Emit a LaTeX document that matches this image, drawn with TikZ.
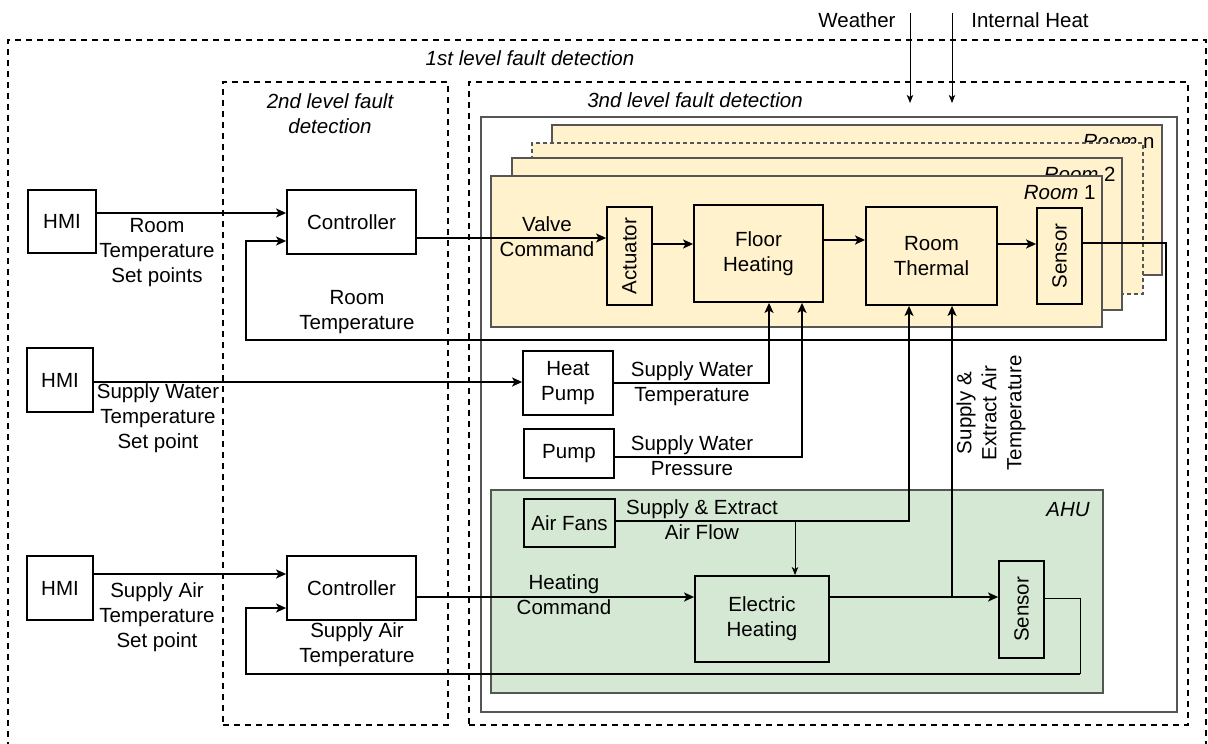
\documentclass[tikz,border=0pt]{standalone}
\usepackage{fontspec}
\setmainfont{Liberation Sans}
\usetikzlibrary{arrows.meta}
\definecolor{roomfill}{HTML}{FFF2CC}
\definecolor{ahufill}{HTML}{D5E8D4}
\definecolor{edgegray}{HTML}{555555}
\newcommand\mkbox[7]{\node[#1, minimum width={(#5-#3)*0.5pt}, minimum height={(#6-#4)*0.5pt}] (#2) at ({(#3+#5)/2},{(#4+#6)/2}) {#7};}
\begin{document}
\begin{tikzpicture}[x=0.5pt,y=-0.5pt,
  font=\fontsize{10.25}{12.5}\selectfont,
  blk/.style={draw=black, line width=0.9pt, inner sep=0pt, align=center},
  roombox/.style={draw=edgegray, fill=roomfill, line width=0.6pt, inner sep=0pt},
  roomdash/.style={roombox, dash pattern=on 2pt off 1.5pt},
  ahubox/.style={draw=edgegray, fill=ahufill, line width=0.6pt, inner sep=0pt},
  graybox/.style={draw=edgegray, line width=0.7pt, inner sep=0pt},
  dbox/.style={draw=black, line width=0.9pt, dash pattern=on 3pt off 2.5pt, inner sep=0pt},
  conn/.style={line width=0.8pt, -{Stealth[length=5pt,width=4.5pt,inset=1.2pt]}},
  plain/.style={line width=0.8pt},
  thinline/.style={line width=0.5pt},
  thinarrow/.style={line width=0.5pt, -{Stealth[length=4pt,width=3.2pt,inset=1pt]}},
  lbl/.style={inner sep=0pt, align=center},
  ilbl/.style={inner sep=0pt, align=center, font=\fontsize{10.25}{12.5}\selectfont\itshape}
]
\useasboundingbox (0,0) rectangle (1208,743);

% level boxes
\mkbox{dbox}{lvlone}{8}{40}{1206}{770}{}
\mkbox{dbox}{lvltwo}{223}{82}{448}{725}{}
\mkbox{dbox}{lvlthree}{469}{82}{1188}{725}{}
\mkbox{graybox}{inner}{481}{117}{1177}{712}{}

\node[ilbl] (l1) at (530,58) {1st level fault detection};
\node[ilbl] (l2) at (330,114) {2nd level fault\\detection};
\node[ilbl] (l3) at (695,100) {3nd level fault detection};

% external inputs
\node[lbl] (wea) at (857,20) {Weather};
\node[lbl] (ih) at (1030,20) {Internal Heat};
\coordinate (wa) at (910,13);
\coordinate (wb) at (910,103);
\coordinate (ia) at (952,13);
\coordinate (ib) at (952,103);
\draw[thinarrow] (wa) -- (wb);
\draw[thinarrow] (ia) -- (ib);

% room stack
\mkbox{roombox}{roomn}{552}{125}{1162}{275}{}
\node[lbl, anchor=base east] (roomnl) at (1155,149) {\textit{Room} n};
\mkbox{roomdash}{roomd}{532}{143}{1143}{294}{}
\mkbox{roombox}{roomtwo}{512}{158}{1122}{310}{}
\node[lbl, anchor=base east] (roomtwol) at (1116,182) {\textit{Room} 2};
\mkbox{roombox}{roomone}{491}{176}{1102}{327}{}
\node[lbl, anchor=base east] (roomonel) at (1096,199) {\textit{Room} 1};

% AHU
\mkbox{ahubox}{ahu}{491}{490}{1103}{693}{}
\node[ilbl, anchor=base east] (ahul) at (1090,516) {AHU};

% blocks
\mkbox{blk}{act}{607}{207}{652}{305}{\rotatebox{90}{Actuator}}
\mkbox{blk}{fh}{694}{205}{823}{302}{Floor\\Heating}
\mkbox{blk}{rt}{866}{207}{997}{305}{Room\\Thermal}
\mkbox{blk}{senone}{1037}{208}{1082}{304}{\rotatebox{90}{Sensor}}
\mkbox{blk}{hmione}{28}{190}{96}{253}{HMI}
\mkbox{blk}{ctlone}{287}{190}{416}{254}{Controller}
\mkbox{blk}{hmitwo}{27}{348}{93}{412}{HMI}
\mkbox{blk}{hp}{523}{351}{613}{415}{Heat\\Pump}
\mkbox{blk}{pump}{524}{429}{614}{478}{Pump}
\mkbox{blk}{fans}{524}{499}{615}{547}{Air Fans}
\mkbox{blk}{eh}{695}{576}{829}{662}{Electric\\Heating}
\mkbox{blk}{sentwo}{999}{561}{1044}{658}{\rotatebox{90}{Sensor}}
\mkbox{blk}{hmithree}{27}{556}{93}{620}{HMI}
\mkbox{blk}{ctltwo}{287}{556}{416}{620}{Controller}

% room loop
\draw[conn] (hmione.east |- 0,213) -- (ctlone.west |- 0,213);
\node[lbl] (rtsp) at (157,253) {Room\\Temperature\\Set points};
\draw[conn] (ctlone.east |- 0,238) -- (act.west |- 0,238);
\node[lbl] (vc) at (547,237) {Valve\\Command};
\draw[conn] (act.east |- 0,244) -- (fh.west |- 0,244);
\draw[conn] (fh.east |- 0,240) -- (rt.west |- 0,240);
\draw[conn] (rt.east |- 0,244) -- (senone.west |- 0,244);
\draw[conn] (senone.east |- 0,243) -| (1166,340) -| (246,241) -- (ctlone.west |- 0,241);
\node[lbl] (rtfb) at (357,312) {Room\\Temperature};

% water
\draw[conn] (hmitwo.east |- 0,382) -- (hp.west |- 0,382);
\node[lbl] (swsp) at (158,418) {Supply Water\\Temperature\\Set point};
\draw[conn] (hp.east |- 0,383) -| (fh.south -| 769,0);
\node[lbl] (swt) at (692,384) {Supply Water\\Temperature};
\draw[conn] (pump.east |- 0,457) -| (fh.south -| 802,0);
\node[lbl] (swp) at (692,456) {Supply Water\\Pressure};

% air
\draw[conn] (fans.east |- 0,521) -| (rt.south -| 909,0);
\node[lbl] (saf) at (702,520) {Supply \& Extract\\Air Flow};
\coordinate (af) at (795,521);
\draw[thinarrow] (af) -- (eh.north -| 795,0);
\draw[conn] (hmithree.east |- 0,574) -- (ctltwo.west |- 0,574);
\node[lbl] (sasp) at (157,617) {Supply Air\\Temperature\\Set point};
\draw[conn] (ctltwo.east |- 0,597) -- (eh.west |- 0,597);
\node[lbl] (hc) at (564,595) {Heating\\Command};
\draw[conn] (eh.east |- 0,597) -- (sentwo.west |- 0,597);
\coordinate (jn) at (952,597);
\draw[conn] (jn) -- (rt.south -| 952,0);
\node[lbl, rotate=90] (seat) at (991,413) {Supply \&\\Extract Air\\Temperature};
\coordinate (fbc) at (1080,674);
\draw[thinline] (sentwo.east |- 0,598) -| (fbc);
\draw[conn] (fbc) -| (246,608) -- (ctltwo.west |- 0,608);
\node[lbl] (satfb) at (357,645) {Supply Air\\Temperature};
\end{tikzpicture}
\end{document}
